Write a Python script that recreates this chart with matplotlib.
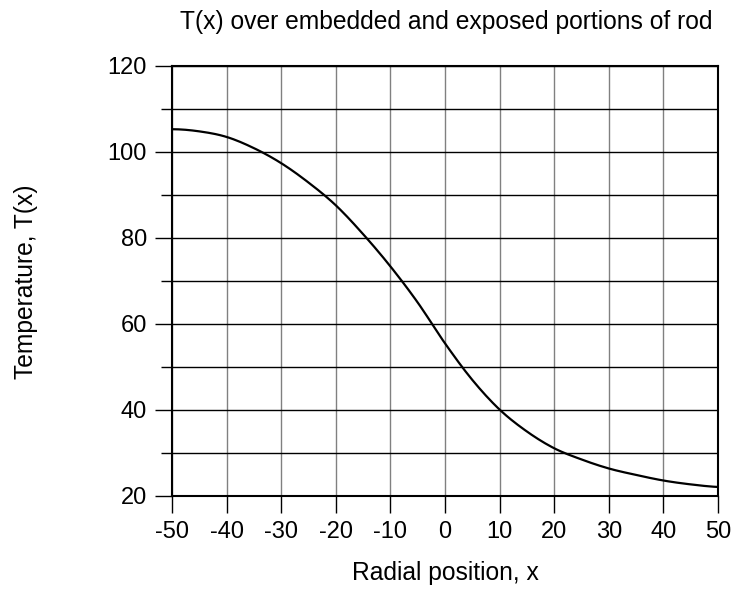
import matplotlib
matplotlib.use("Agg")
import matplotlib.pyplot as plt
import numpy as np

# Data
x_pos = [-50, -45, -40, -35, -30, -25, -20, -15, -10, -5, 0, 5, 10, 15, 20, 25, 30, 35, 40, 45, 50]
temp = [105.3, 104.8, 103.5, 100.9, 97.4, 92.9, 87.6, 80.9, 73.4, 65.0, 55.5,
        47.0, 40.1, 35.0, 31.1, 28.5, 26.4, 24.9, 23.6, 22.7, 22.1]

x_ticks = [-50, -40, -30, -20, -10, 0, 10, 20, 30, 40, 50]
y_major = [20, 40, 60, 80, 100, 120]
y_minor = [30, 50, 70, 90, 110]

title = "T(x) over embedded and exposed portions of rod"
xlabel = "Radial position, x"
ylabel = "Temperature, T(x)"

plt.rcParams['font.family'] = ['Liberation Sans', 'DejaVu Sans']
plt.rcParams['axes.unicode_minus'] = False

fig = plt.figure(figsize=(7.35, 5.89), dpi=100)
ax = fig.add_axes([172/735, 1-496/589, (718-172)/735, (496-66)/589])

xs = np.array(x_pos, float)
ys = np.array(temp, float)
# Catmull-Rom dense sampling through the read points for a smooth line
dense_x, dense_y = [], []
n = len(xs)
for i in range(n - 1):
    p0 = ys[max(i - 1, 0)] if i > 0 else ys[1]
    p1 = ys[i]; p2 = ys[i + 1]; p3 = ys[min(i + 2, n - 1)]
    for t in np.linspace(0, 1, 12, endpoint=False):
        t2, t3 = t * t, t * t * t
        yv = 0.5 * ((2 * p1) + (-p0 + p2) * t + (2 * p0 - 5 * p1 + 4 * p2 - p3) * t2 + (-p0 + 3 * p1 - 3 * p2 + p3) * t3)
        dense_x.append(xs[i] + t * (xs[i + 1] - xs[i]))
        dense_y.append(yv)
dense_x.append(xs[-1]); dense_y.append(ys[-1])

for xv in x_ticks:
    ax.axvline(xv, color='#808080', lw=1.0, zorder=1)
for yv in y_major + y_minor:
    ax.axhline(yv, color='black', lw=1.0, zorder=1)

ax.plot(dense_x, dense_y, color='black', lw=1.6, zorder=3)

ax.set_xlim(-50, 50)
ax.set_ylim(20, 120)
ax.set_xticks(x_ticks)
ax.set_yticks(y_major)
ax.set_yticks(y_minor, minor=True)
ax.tick_params(axis='both', which='major', length=12, width=1.0, labelsize=17, direction='out', pad=6)
ax.tick_params(axis='y', which='minor', length=8, width=1.0, direction='out')
for s in ax.spines.values():
    s.set_linewidth(1.5)
    s.set_color('black')

fig.text(445/735, 1-573/589, xlabel, fontsize=17.7, ha='center', va='center')
fig.text(26/735, 1-282/589, ylabel, fontsize=17.7, ha='center', va='center', rotation=90)
fig.text(712/735, 1-22/589, title, fontsize=17.7, ha='right', va='center')

fig.savefig("out.png", dpi=100)
